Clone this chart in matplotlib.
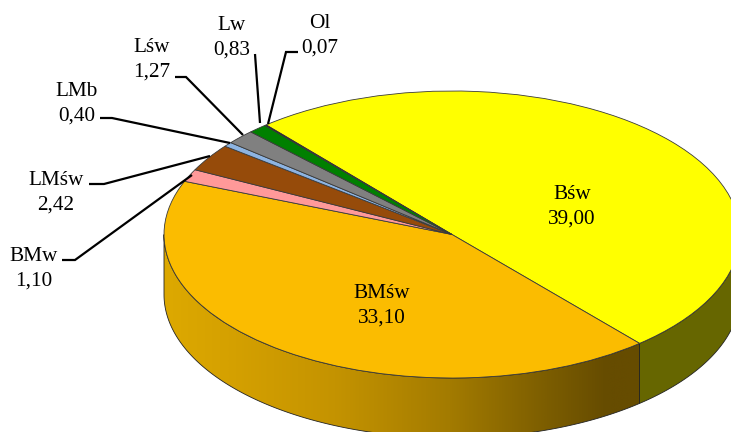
import numpy as np
import matplotlib
matplotlib.use("Agg")
import matplotlib.pyplot as plt
from matplotlib.colors import LinearSegmentedColormap
from matplotlib.patches import Polygon

W, H = 731, 432
categories = ["Bśw", "BMśw", "BMw", "LMśw", "LMb", "Lśw", "Lw", "Ol"]
values = [39.00, 33.10, 1.10, 2.42, 0.40, 1.27, 0.83, 0.07]
value_labels = ["39,00", "33,10", "1,10", "2,42", "0,40", "1,27", "0,83", "0,07"]
colors = ["#FFFF00", "#FBBC00", "#FF9999", "#964B0A", "#8DB4E2", "#808080", "#008000", "#000000"]
label_pos = [(572, 207), (382, 306), (34, 269), (56, 193), (77, 104), (152, 60), (232, 38), (320, 36)]
leaders = [None, None,
           [(62, 260), (75, 260), (192, 175)],
           [(89, 184), (104, 184), (210, 156)],
           [(100, 118), (112, 118), (230, 143)],
           [(175, 77), (186, 77), (243, 135)],
           [(255, 54), (260, 123)],
           [(298, 52), (286, 52), (268, 124)]]

cx, cy, rx, ry, depth = 452, 234.5, 288, 143.5, 60
start_angle = 130.2

plt.rcParams["font.family"] = ["Liberation Serif", "DejaVu Serif"]
fig = plt.figure(figsize=(W / 100, H / 100), dpi=100)
ax = fig.add_axes([0, 0, 1, 1])
ax.pie(values, colors=colors, startangle=start_angle, counterclock=False, radius=1,
       wedgeprops=dict(edgecolor="#3a3a3a", linewidth=0.6, zorder=5))
ax.set_aspect("auto")
ax.axis("off")

d = depth / ry
boundary = start_angle - values[0] / sum(values) * 360


def wall(a0, a1):
    t = np.radians(np.linspace(a0, a1, 200))
    x, y = np.cos(t), np.sin(t)
    return np.r_[np.c_[x, y], np.c_[x, y - d][::-1]]


# orange side with horizontal shading, olive side flat
shade = LinearSegmentedColormap.from_list("shade", [
    (0.0, "#DDA900"), (0.15, "#D4A000"), (0.36, "#C49300"), (0.6, "#A37B00"),
    (0.8, "#7D5E00"), (0.93, "#664C00"), (1.0, "#664C00")])
xl = np.cos(np.radians(boundary))
grad = np.linspace(0, 1, 512).reshape(1, -1)
im = ax.imshow(grad, cmap=shade, extent=(-1, xl, -1.6, 0), aspect="auto", zorder=2)
orange_wall = Polygon(wall(180, 360 + boundary), closed=True, fc="none", ec="#222222", lw=0.6, zorder=3)
ax.add_patch(orange_wall)
im.set_clip_path(orange_wall)
ax.add_patch(Polygon(wall(boundary, 0), closed=True, fc="#666600", ec="#222222", lw=0.6, zorder=3))
ax.set_aspect("auto")
ax.set_xlim(-cx / rx, (W - cx) / rx)
ax.set_ylim((cy - H) / ry, cy / ry)

# overlay in pixel coordinates for labels and leader lines
ov = fig.add_axes([0, 0, 1, 1], facecolor="none")
ov.set_xlim(0, W)
ov.set_ylim(H, 0)
ov.axis("off")
for name, val, pos, lead in zip(categories, value_labels, label_pos, leaders):
    ov.text(pos[0], pos[1], f"{name}\n{val}", ha="center", va="center",
            fontsize=15.3, linespacing=1.36, color="black")
    if lead:
        xs, ys = zip(*lead)
        ov.plot(xs, ys, color="black", lw=1.6, solid_joinstyle="miter", solid_capstyle="butt")

fig.savefig("out.png", dpi=100)
